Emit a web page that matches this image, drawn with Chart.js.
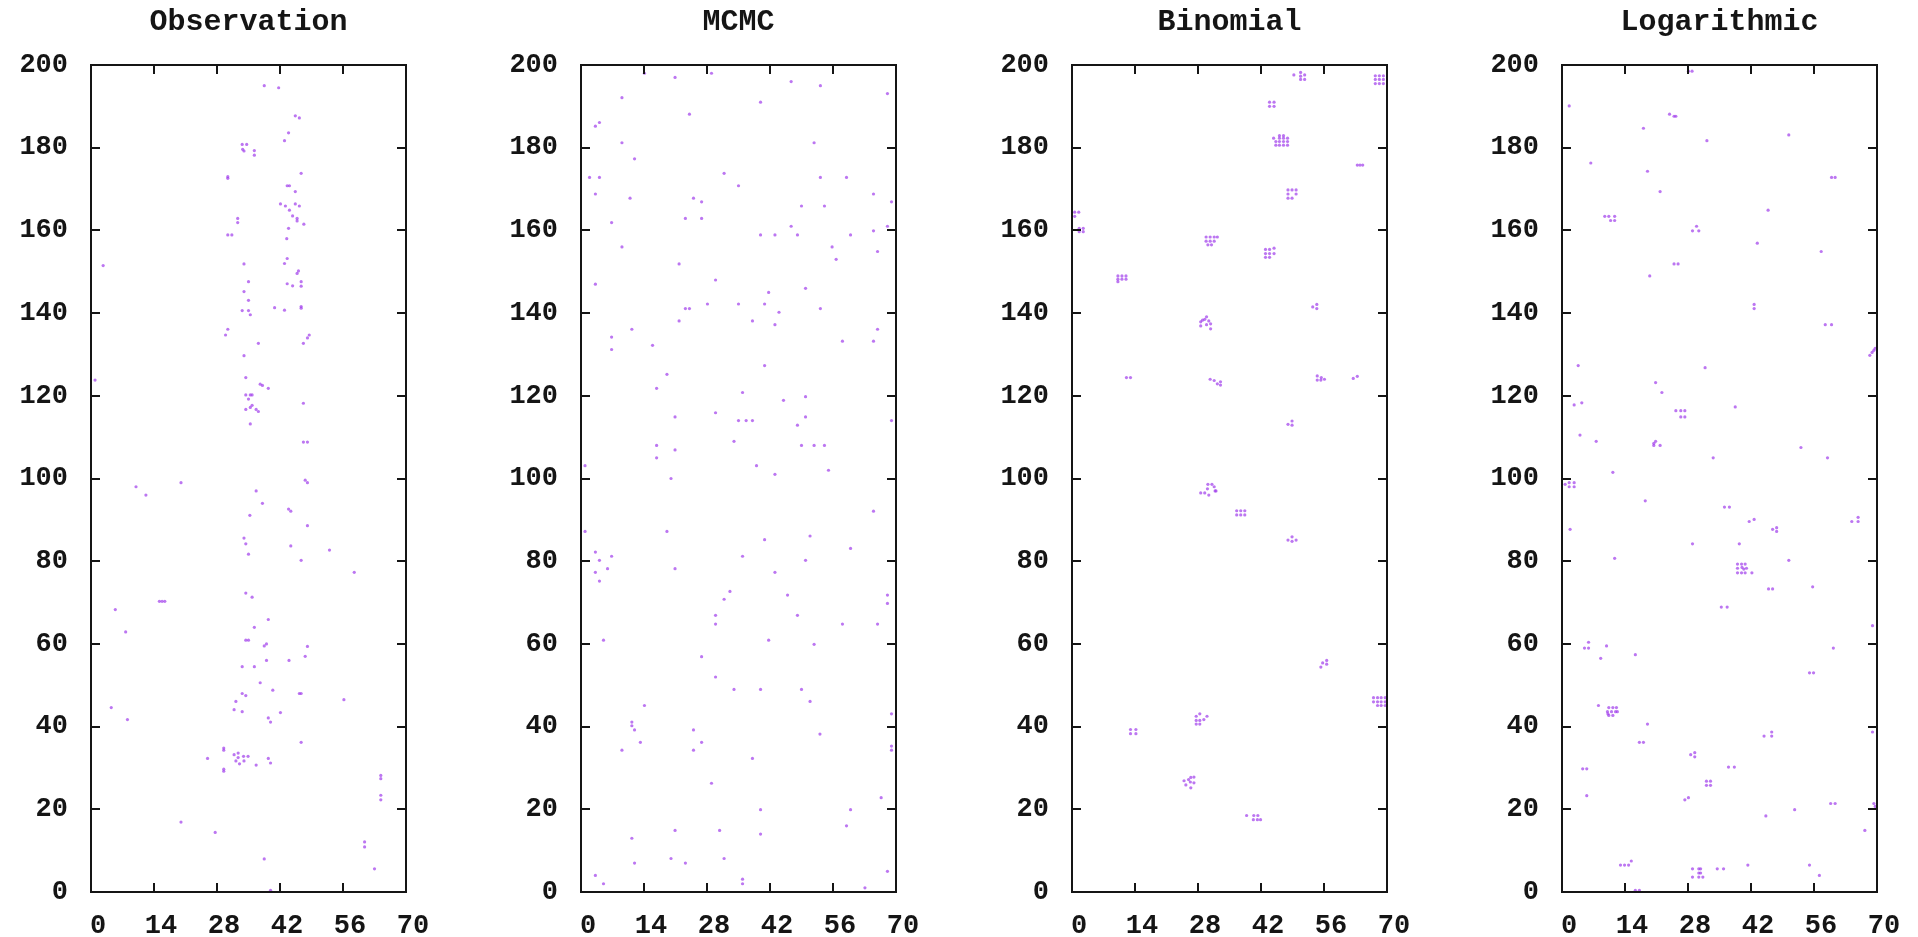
<!DOCTYPE html>
<html>
<head>
<meta charset="utf-8">
<title>Observation / MCMC / Binomial / Logarithmic</title>
<script src="https://cdn.jsdelivr.net/npm/chart.js@4.4.0/dist/chart.umd.min.js"></script>
<style>
    html, body { margin: 0; padding: 0; background: #fff; overflow: hidden; }
    .panel { position: absolute; top: 0; width: 490px; height: 937px; }
</style>
</head>
<body>
<div class="panel" style="left:0px"><canvas id="c0" width="490" height="937"></canvas></div>
<div class="panel" style="left:490px"><canvas id="c1" width="490" height="937"></canvas></div>
<div class="panel" style="left:981px"><canvas id="c2" width="490" height="937"></canvas></div>
<div class="panel" style="left:1471px"><canvas id="c3" width="490" height="937"></canvas></div>
<script>
// panel titles and axis ticks
const titles = ['Observation', 'MCMC', 'Binomial', 'Logarithmic'];
const xTicks = [0, 14, 28, 42, 56, 70];
const yTicks = [0, 20, 40, 60, 80, 100, 120, 140, 160, 180, 200];

// [x, y] points
const observation = [
    [38.5,195.0],[41.7,194.5],[45.4,187.7],[46.3,187.2],[43.9,183.6],[43.0,181.7],
    [33.6,180.8],[34.6,180.8],[33.7,179.6],[34.0,179.2],[36.3,179.3],[36.3,178.2],
    [46.7,173.8],[30.4,173.0],[30.4,172.6],[43.6,170.8],[44.1,170.8],[45.4,169.4],
    [42.1,166.4],[43.2,165.9],[45.4,166.4],[46.3,165.9],[44.1,164.9],[44.8,163.5],
    [45.8,162.9],[45.8,162.3],[47.3,161.5],[32.6,162.9],[32.6,161.9],[43.9,160.5],
    [30.4,158.9],[31.3,158.9],[43.5,158.0],[43.6,153.2],[43.0,152.0],[2.7,151.5],
    [34.0,151.9],[46.1,150.2],[45.8,149.6],[35.0,147.6],[43.6,147.1],[44.8,146.6],
    [46.7,147.6],[46.7,146.5],[34.0,145.2],[35.0,143.1],[40.8,141.3],[43.0,140.7],
    [46.7,141.6],[46.7,141.2],[33.6,140.6],[35.0,140.6],[35.4,139.6],[30.4,136.1],
    [29.9,134.7],[48.5,134.7],[48.1,134.0],[47.2,132.7],[37.2,132.7],[34.0,129.7],
    [0.9,123.8],[34.4,124.4],[37.6,122.8],[38.1,122.5],[39.4,121.8],[34.4,120.2],
    [35.4,120.2],[35.8,120.2],[35.0,119.2],[47.2,118.2],[35.8,117.7],[35.4,117.2],
    [34.4,116.7],[36.7,116.7],[37.2,116.2],[35.4,113.2],[47.2,108.8],[48.1,108.8],
    [47.6,99.6],[48.1,99.0],[10.0,98.0],[20.0,99.0],[12.2,96.0],[36.7,97.0],
    [38.1,94.0],[43.9,92.6],[44.4,92.1],[35.3,91.1],[48.1,88.6],[34.0,85.6],
    [34.4,84.2],[44.4,83.7],[53.0,82.7],[35.0,81.7],[46.7,80.2],[58.5,77.3],
    [34.4,72.3],[35.8,71.3],[15.2,70.3],[15.8,70.3],[16.4,70.3],[5.4,68.3],
    [39.4,65.9],[36.3,64.0],[7.7,62.9],[34.4,60.9],[35.0,60.9],[39.0,60.0],
    [38.5,59.5],[48.1,59.4],[47.6,57.0],[33.6,54.5],[36.3,54.5],[39.0,56.0],
    [44.0,56.0],[37.6,50.6],[40.4,48.8],[46.3,48.0],[46.7,48.0],[33.6,48.0],
    [34.4,47.5],[56.2,46.5],[32.2,46.1],[4.5,44.6],[31.8,44.1],[33.6,43.6],
    [42.1,43.4],[39.4,42.1],[39.9,41.1],[8.1,41.7],[46.7,36.2],[29.5,34.8],
    [29.5,34.3],[25.9,32.3],[31.8,33.2],[32.7,33.6],[32.7,32.5],[33.9,32.8],
    [34.9,32.8],[32.2,31.7],[33.0,31.0],[34.0,31.7],[36.7,30.7],[39.4,32.3],
    [39.9,31.2],[29.5,29.7],[29.5,29.2],[64.4,28.2],[64.4,27.4],[64.4,23.4],
    [64.4,22.3],[20.0,16.9],[27.6,14.4],[60.8,12.1],[60.8,10.9],[38.5,8.0],
    [63.0,5.6],[39.9,0.4]
];

const mcmc = [
    [14.1,198.0],[20.9,197.0],[29.0,198.0],[46.7,196.0],[53.2,195.0],[68.1,193.1],
    [9.1,192.1],[39.9,191.0],[24.1,188.1],[4.1,186.1],[3.2,185.2],[9.1,181.2],
    [51.8,181.2],[11.9,177.3],[31.8,173.8],[1.9,172.8],[4.1,172.8],[53.2,172.8],
    [59.0,172.8],[35.0,170.8],[3.2,168.8],[10.9,167.8],[25.0,167.8],[26.8,166.9],
    [65.0,168.8],[69.0,166.9],[49.0,165.9],[54.1,165.9],[6.8,161.9],[23.2,162.9],
    [26.8,162.9],[46.7,161.0],[68.1,161.0],[65.0,159.9],[39.9,158.9],[43.1,158.9],
    [48.1,158.9],[59.9,158.9],[9.1,156.0],[55.8,156.0],[65.9,154.9],[56.7,153.0],
    [21.8,151.9],[3.2,147.0],[29.9,148.0],[49.9,146.0],[41.7,145.0],[28.1,142.2],
    [35.0,142.2],[40.8,142.2],[23.2,141.1],[24.1,141.1],[44.0,140.2],[53.2,141.1],
    [21.8,138.1],[38.1,138.1],[43.1,137.2],[11.3,136.1],[65.9,136.1],[6.8,134.2],
    [6.8,131.2],[15.9,132.2],[58.1,133.2],[65.0,133.2],[40.8,127.3],[19.1,125.2],
    [16.8,121.8],[35.9,120.8],[49.9,119.8],[45.0,118.9],[29.9,115.9],[20.9,114.9],
    [49.9,114.9],[35.0,114.0],[36.7,114.0],[38.1,114.0],[69.0,114.0],[48.1,112.9],
    [34.0,109.0],[16.8,108.0],[20.9,106.9],[49.0,108.0],[51.8,108.0],[54.1,108.0],
    [16.8,105.0],[0.9,103.1],[39.0,103.1],[43.1,101.0],[55.0,102.0],[20.0,100.0],
    [65.0,92.1],[0.9,87.2],[19.1,87.2],[40.8,85.2],[50.9,86.1],[59.9,83.1],
    [3.2,82.2],[4.1,80.2],[6.8,81.2],[5.9,78.2],[3.2,77.3],[4.1,75.2],
    [20.9,78.2],[35.9,81.2],[49.9,80.2],[43.1,77.3],[33.1,72.7],[31.8,70.8],
    [45.9,71.8],[68.1,71.8],[68.1,69.8],[29.9,66.9],[29.9,64.8],[48.1,66.9],
    [58.1,64.8],[65.9,64.8],[5.0,60.9],[41.7,60.9],[51.8,59.9],[26.8,56.9],
    [29.9,52.0],[34.0,49.0],[39.9,49.0],[49.0,49.0],[50.9,46.1],[14.1,45.1],
    [69.0,43.1],[11.3,41.1],[11.3,40.2],[11.9,39.2],[25.0,39.2],[53.1,38.2],
    [13.2,36.2],[26.8,36.2],[9.1,34.3],[25.0,34.3],[69.0,35.3],[69.0,34.3],
    [38.1,32.3],[29.0,26.3],[66.7,22.8],[39.9,19.9],[59.9,19.9],[59.0,16.0],
    [20.9,14.9],[30.8,14.9],[39.9,14.0],[11.3,13.0],[20.0,8.1],[31.8,8.1],
    [11.9,7.0],[23.2,7.0],[3.2,4.0],[5.0,2.0],[35.9,3.1],[35.9,2.0],
    [68.1,5.0],[63.1,1.0]
];

const binomial = [
    [49.3,197.6],[50.8,198.2],[50.8,197.3],[51.7,197.6],[50.8,196.5],[51.7,196.5],
    [67.4,197.4],[68.3,197.4],[69.2,197.4],[67.4,196.5],[68.3,196.5],[69.2,196.5],
    [67.4,195.5],[68.3,195.5],[69.2,195.5],
    [43.9,191.0],[44.9,191.0],[43.9,190.0],[44.9,190.0],
    [46.1,182.9],[47.0,182.9],[44.8,182.3],[46.1,182.3],[47.0,182.3],[47.9,182.3],
    [45.3,181.5],[46.1,181.5],[47.0,181.5],[47.9,181.5],[45.3,180.6],[46.1,180.6],
    [47.0,180.6],[47.9,180.6],
    [63.4,175.8],[64.0,175.8],[64.6,175.8],
    [48.0,169.8],[48.9,169.8],[49.8,169.8],[48.0,168.8],[49.8,168.8],[48.0,167.8],[48.9,167.8],
    [0.6,164.4],[1.5,164.4],[0.6,163.4],
    [1.6,160.5],[2.5,160.5],[1.6,159.7],[2.5,159.7],
    [29.8,158.4],[30.7,158.4],[31.6,158.4],[32.3,158.4],[29.8,157.4],[30.7,157.4],
    [31.6,157.4],[30.2,156.5],[31.0,156.5],
    [43.0,155.4],[43.9,155.4],[44.9,155.7],[43.0,154.4],[43.9,154.4],[44.9,154.4],
    [43.0,153.5],[43.9,153.5],
    [10.2,149.0],[11.1,149.0],[12.0,149.0],[10.2,148.2],[11.1,148.2],[12.0,148.2],[10.2,147.6],
    [53.5,141.5],[54.4,142.1],[54.4,141.1],
    [28.6,137.9],[28.6,136.9],[29.5,138.5],[29.9,139.1],[30.4,138.1],[29.9,137.2],
    [30.8,137.4],[30.8,136.2],[29.0,138.3],
    [12.1,124.4],[13.0,124.4],
    [30.7,124.0],[31.6,123.7],[32.3,122.9],[33.0,123.4],[33.0,122.6],
    [54.5,124.8],[54.5,123.8],[55.4,124.4],[56.1,124.0],[55.3,123.8],
    [62.5,124.2],[63.4,124.7],
    [48.0,113.1],[48.9,113.9],[48.9,112.9],
    [28.6,96.5],[29.5,96.5],[30.2,98.6],[31.1,98.6],[30.1,97.5],[30.4,96.0],
    [31.6,98.0],[32.0,97.0],[31.8,97.0],
    [36.6,92.2],[37.5,92.2],[38.4,92.2],[36.6,91.2],[37.5,91.2],[38.4,91.2],
    [48.0,85.1],[48.9,85.9],[48.9,84.8],[49.8,85.1],
    [55.3,54.4],[55.7,55.4],[56.6,56.0],[56.6,55.1],
    [67.0,47.0],[67.9,47.0],[68.7,47.0],[69.6,47.0],[67.0,46.0],[67.9,46.0],
    [68.7,46.0],[69.6,46.0],[67.9,45.1],[68.7,45.1],[69.6,45.1],
    [28.4,43.1],[27.6,42.5],[30.0,42.5],[27.6,41.5],[28.4,41.5],[29.3,41.7],
    [27.6,40.6],[28.4,40.6],
    [13.0,39.3],[14.2,39.3],[13.0,38.3],[14.2,38.3],
    [24.9,26.9],[25.9,27.2],[26.4,27.7],[27.1,27.8],[25.3,25.9],[26.4,25.2],
    [27.1,26.4],[26.3,26.6],
    [38.8,18.5],[40.4,18.5],[41.3,18.5],[40.3,17.5],[41.2,17.5],[41.9,17.5]
];

const logarithmic = [
    [28.1,198.5],[28.9,198.5],[1.6,190.1],[23.9,188.1],[24.9,187.6],[25.3,187.6],
    [18.1,184.7],[50.4,183.1],[32.2,181.7],[6.4,176.3],[19.0,174.3],[59.9,172.8],
    [60.7,172.8],[21.8,169.4],[45.8,164.9],[9.5,163.4],[10.4,163.4],[11.7,163.4],
    [10.8,162.4],[11.7,162.4],[29.9,161.0],[29.0,159.9],[30.4,159.9],[43.4,156.9],
    [57.6,154.9],[24.9,151.9],[25.8,151.9],[19.5,149.0],[42.7,142.1],[42.7,141.1],
    [58.5,137.2],[59.9,137.2],[68.4,129.8],[68.9,130.5],[69.3,131.0],[69.6,131.5],
    [3.6,127.3],[31.8,126.8],[20.8,123.2],[22.2,120.8],[2.7,117.8],[4.4,118.3],
    [25.3,116.4],[26.4,116.4],[27.3,116.4],[26.4,114.9],[27.3,114.9],[38.5,117.3],
    [4.0,110.5],[7.6,109.0],[20.4,108.5],[20.8,109.0],[21.8,108.0],[20.4,108.0],
    [53.1,107.5],[33.6,105.0],[59.0,105.0],[11.3,101.5],
    [0.7,98.6],[1.6,99.0],[2.7,99.0],[1.6,98.0],[2.7,98.0],[18.5,94.6],
    [36.1,93.1],[37.2,93.1],[41.6,89.6],[42.7,90.1],[46.8,87.7],[47.7,88.1],
    [47.7,87.2],[64.4,89.6],[65.8,90.6],[65.8,89.6],[1.8,87.7],[29.0,84.2],
    [39.4,84.2],[11.7,80.7],[50.4,80.2],
    [39.0,79.3],[39.9,79.3],[40.7,79.3],[39.0,78.3],[40.0,78.5],[40.4,78.1],
    [41.0,78.3],[39.0,77.2],[39.9,77.2],[40.7,77.2],[42.2,77.2],
    [45.9,73.3],[46.8,73.3],[55.7,73.8],[35.4,68.9],[36.7,68.9],[69.0,64.4],
    [5.9,60.4],[5.0,59.0],[5.9,59.0],[9.9,59.5],[8.6,56.5],[16.3,57.4],
    [60.3,59.0],[55.0,53.0],[55.9,53.0],[8.1,45.1],
    [10.4,44.6],[11.3,44.6],[12.1,44.6],[10.1,43.6],[11.0,43.6],[11.9,43.6],
    [12.3,43.6],[10.2,43.1],[10.4,42.7],[11.3,42.7],
    [19.0,40.6],[17.2,36.2],[18.1,36.2],[44.9,37.7],[46.6,38.7],[46.6,37.7],
    [69.0,38.7],[28.6,33.2],[29.5,33.7],[29.5,32.7],[4.6,29.8],[5.5,29.8],
    [37.0,30.2],[38.3,30.2],[32.1,26.8],[33.0,26.8],[32.1,25.8],[33.0,25.8],
    [5.5,23.3],[27.3,22.3],[28.1,22.8],[59.7,21.4],[60.7,21.4],[69.3,21.4],
    [69.6,20.7],[51.7,19.9],[45.3,18.4],[67.3,14.9],
    [13.0,6.5],[13.9,6.5],[14.8,6.5],[15.4,7.5],
    [29.0,5.6],[29.0,3.6],[30.4,5.6],[30.8,5.6],[30.4,4.6],[30.8,4.6],
    [30.4,3.6],[31.3,3.6],
    [34.5,5.6],[35.9,5.6],[41.3,6.5],[55.0,6.5],[57.2,4.0],[16.3,0.4],[17.2,0.4]
];

const series = [observation, mcmc, binomial, logarithmic];

const fontFamily = '"Liberation Mono", "DejaVu Sans Mono", monospace';
const inkColor = '#151515';

// gnuplot style box: full border plus inward ticks on all four sides
const framePlugin = {
    id: 'frame',
    afterDatasetsDraw(chart) {
        const ctx = chart.ctx;
        const a = chart.chartArea;
        const xs = chart.scales.x;
        const ys = chart.scales.y;
        const len = 9;
        ctx.save();
        ctx.strokeStyle = inkColor;
        ctx.lineWidth = 2;
        ctx.beginPath();
        xs.ticks.forEach(t => {
            const px = Math.round(xs.getPixelForValue(t.value));
            ctx.moveTo(px, a.bottom); ctx.lineTo(px, a.bottom - len);
            ctx.moveTo(px, a.top); ctx.lineTo(px, a.top + len);
        });
        ys.ticks.forEach(t => {
            const py = Math.round(ys.getPixelForValue(t.value));
            ctx.moveTo(a.left, py); ctx.lineTo(a.left + len, py);
            ctx.moveTo(a.right, py); ctx.lineTo(a.right - len, py);
        });
        ctx.stroke();
        ctx.strokeRect(a.left, a.top, a.right - a.left, a.bottom - a.top);
        ctx.restore();
    }
};

function makePanel(i) {
    const pts = series[i].map(p => ({ x: p[0], y: p[1] }));
    new Chart(document.getElementById('c' + i), {
        type: 'scatter',
        data: {
            datasets: [{
                data: pts,
                backgroundColor: 'rgba(160, 60, 235, 0.7)',
                borderWidth: 0,
                pointRadius: 1.6,
                pointHoverRadius: 1.6
            }]
        },
        options: {
            responsive: false,
            animation: false,
            devicePixelRatio: 1,
            layout: { padding: { left: 0, right: 84, top: 0, bottom: 0 } },
            plugins: {
                legend: { display: false },
                tooltip: { enabled: false },
                title: {
                    display: true,
                    text: titles[i],
                    fullSize: false,
                    color: inkColor,
                    font: { family: fontFamily, size: 30, weight: 'bold', lineHeight: 1 },
                    padding: { top: 7, bottom: 28 }
                }
            },
            scales: {
                x: {
                    type: 'linear',
                    min: 0,
                    max: 70,
                    afterBuildTicks: s => { s.ticks = xTicks.map(v => ({ value: v })); },
                    afterFit: s => { s.height = 45; s.paddingLeft = 0; s.paddingRight = 0; },
                    grid: { display: false, drawTicks: false },
                    border: { display: false },
                    ticks: {
                        color: inkColor,
                        font: { family: fontFamily, size: 27, weight: 'bold' },
                        padding: 18,
                        labelOffset: 7,
                        maxRotation: 0,
                        autoSkip: false
                    }
                },
                y: {
                    type: 'linear',
                    min: 0,
                    max: 200,
                    afterBuildTicks: s => { s.ticks = yTicks.map(v => ({ value: v })); },
                    afterFit: s => { s.width = 91; s.paddingTop = 0; s.paddingBottom = 0; },
                    grid: { display: false, drawTicks: false },
                    border: { display: false },
                    ticks: {
                        color: inkColor,
                        font: { family: fontFamily, size: 27, weight: 'bold' },
                        padding: 23,
                        autoSkip: false
                    }
                }
            }
        },
        plugins: [framePlugin]
    });
}

for (let i = 0; i < 4; i++) makePanel(i);
</script>
</body>
</html>
